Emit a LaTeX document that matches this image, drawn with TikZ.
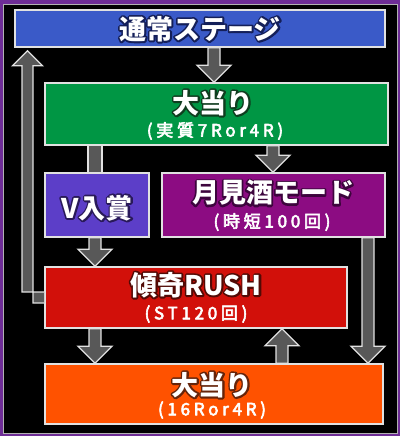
\documentclass[tikz,border=0pt]{standalone}
\usepackage{fontspec}
\setmainfont{Noto Sans CJK JP}
\newfontfamily\subfont{Noto Sans CJK JP}[LetterSpace=22]
\usetikzlibrary{calc}
\definecolor{frameP}{RGB}{110,45,150}
\definecolor{cBlue}{RGB}{58,90,200}
\definecolor{cGreen}{RGB}{0,150,68}
\definecolor{cViolet}{RGB}{92,62,200}
\definecolor{cPurple}{RGB}{140,12,130}
\definecolor{cRed}{RGB}{210,16,10}
\definecolor{cOrange}{RGB}{255,82,0}
\definecolor{arrG}{RGB}{88,88,88}
\definecolor{arrE}{RGB}{225,225,225}
% outlined title: #1 = stroke colour as "r g b" (0..1), #2 = text
\newcommand{\ttl}[2]{{\bfseries\fontsize{27}{29}\selectfont
  \makebox[0pt][l]{\special{pdf:literal direct 1 Tr 3.6 w 1 j 1 J #1 RG}#2\special{pdf:literal direct 0 Tr 1 w}}#2}}
\newcommand{\sub}[1]{{\subfont\fontsize{17}{19}\selectfont
  \special{pdf:literal direct 2 Tr 0.6 w 1 j 1 1 1 RG}#1\special{pdf:literal direct 0 Tr 1 w}}}
\tikzset{
  box/.style={draw=arrE, line width=1.6pt, minimum width=#1, inner sep=0pt, text=white, align=center},
  blk/.style={fill=arrG, draw=arrE, line width=1.3pt, line join=miter},
  lbl/.style={text=white, inner sep=0pt},
}
% vertical block arrow: start, tip, direction (+1 down, -1 up)
\newcommand{\varr}[3]{%
  \draw[blk] let \p1=(#1), \p2=(#2) in
    (\x2-6pt,\y1) -- (\x2-6pt,\y2+#3*17pt) -- (\x2-17pt,\y2+#3*17pt) -- (\x2,\y2)
    -- (\x2+17pt,\y2+#3*17pt) -- (\x2+6pt,\y2+#3*17pt) -- (\x2+6pt,\y1) -- cycle;}
\begin{document}
\begin{tikzpicture}[x=1pt,y=-1pt]
\useasboundingbox (0,0) rectangle (400,436);
\fill[frameP] (0,0) rectangle (400,436);
\fill[black] (3,4) rectangle (397,433);
\draw[gray!60, line width=0.6pt] (3,4) rectangle (397,433);

% boxes
\node[box=370pt, minimum height=37pt, fill=cBlue] (stage) at (200,28.5) {};
\node[box=343pt, minimum height=62pt, fill=cGreen] (hitA) at (216.5,114) {};
\node[box=104pt, minimum height=64pt, fill=cViolet] (vin) at (97,205) {};
\node[box=223pt, minimum height=64pt, fill=cPurple] (moon) at (273.5,205) {};
\node[box=302pt, minimum height=61pt, fill=cRed] (rush) at (196,297.5) {};
\node[box=338pt, minimum height=60pt, fill=cOrange] (hitB) at (214,394) {};

% texts in boxes
\node[lbl] (tS) at (200,29) {\ttl{0.08 0.12 0.35}{通常ステージ}};
\node[lbl] (tV) at (97,208) {\ttl{0.16 0.1 0.35}{V入賞}};
\node[lbl] (tA1) at (213,103) {\ttl{0.06 0.24 0.12}{大当り}};
\node[lbl] (tA2) at (215,131) {\sub{(実質7Ror4R)}};
\node[lbl] (tM1) at (273,193) {\ttl{0.24 0.02 0.24}{月見酒モード}};
\node[lbl] (tM2) at (272,222) {\sub{(時短100回)}};
\node[lbl] (tR1) at (196,285) {\ttl{0.32 0.04 0.02}{傾奇RUSH}};
\node[lbl] (tR2) at (196,314) {\sub{(ST120回)}};
\node[lbl] (tB1) at (212,385) {\ttl{0.4 0.14 0.04}{大当り}};
\node[lbl] (tB2) at (212,410) {\sub{(16Ror4R)}};

% connectors
\coordinate (c1) at (hitA.north -| 214,0);
\varr{stage.south -| c1}{c1}{1}
\coordinate (c2) at (moon.north -| 273,0);
\varr{hitA.south -| c2}{c2}{1}
\draw[blk] ($(hitA.south -| 95,0)+(-7,0)$) rectangle ($(vin.north -| 95,0)+(7,0)$);
\coordinate (c3) at (rush.north -| 95,0);
\varr{vin.south -| c3}{c3}{1}
\coordinate (c4) at (hitB.north -| 95,0);
\varr{rush.south -| c4}{c4}{1}
\coordinate (c5) at (rush.south -| 282,0);
\varr{hitB.north -| c5}{c5}{-1}
\coordinate (c6) at (hitB.north -| 368,0);
\varr{moon.south -| c6}{c6}{1}
% left return arrow
\coordinate (c7) at ($(stage.south -| 27.5,0)+(0,3)$);
\draw[blk] let \p1=(rush.west), \p2=(c7) in
  (\x1,\y1+5.5pt) -- (\x2-5.5pt,\y1+5.5pt) -- (\x2-5.5pt,\y2-15pt) -- (\x2-15pt,\y2-15pt)
  -- (\x2,\y2) -- (\x2+15pt,\y2-15pt) -- (\x2+5.5pt,\y2-15pt) -- (\x2+5.5pt,\y1-5.5pt)
  -- (\x1,\y1-5.5pt);
\end{tikzpicture}
\end{document}
